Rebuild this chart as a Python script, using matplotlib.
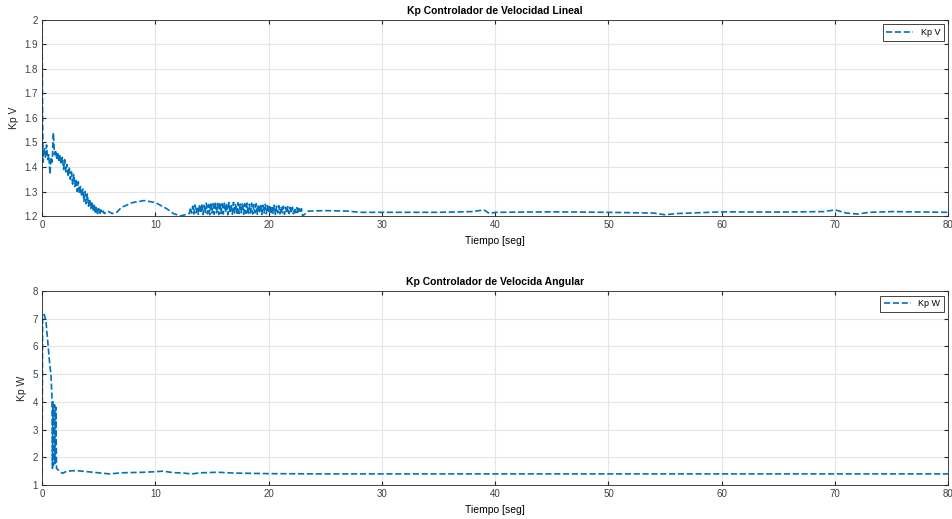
import matplotlib
matplotlib.use("Agg")
import matplotlib.pyplot as plt

plt.rcParams['font.family'] = ['Liberation Sans', 'DejaVu Sans']

# Kp V (top)
t_v = [0.0, 0.02, 0.05, 0.1, 0.2, 0.3, 0.4, 0.5, 0.6, 0.7, 0.8, 0.9, 1.0, 1.1,
       1.2, 1.3, 1.4, 1.5, 1.6, 1.7, 1.8, 1.9, 2.0, 2.1, 2.2, 2.3, 2.4, 2.5,
       2.6, 2.7, 2.8, 2.9, 3.0, 3.1, 3.2, 3.3, 3.4, 3.5, 3.6, 3.7, 3.8, 3.9,
       4.0, 4.1, 4.2, 4.3, 4.4, 4.5, 4.6, 4.7, 4.8, 4.9, 5.0, 5.1, 5.2, 5.3,
       5.4, 5.5,
       5.8, 6.2, 6.6, 7.0, 8.0, 9.0, 10.0, 11.0, 11.6, 12.2, 12.6,
       13.0, 13.1, 13.2, 13.3, 13.4, 13.5, 13.6, 13.7, 13.8, 13.9,
       14.0, 14.1, 14.2, 14.3, 14.4, 14.5, 14.6, 14.7, 14.8, 14.9,
       15.0, 15.1, 15.2, 15.3, 15.4, 15.5, 15.6, 15.7, 15.8, 15.9,
       16.0, 16.1, 16.2, 16.3, 16.4, 16.5, 16.6, 16.7, 16.8, 16.9,
       17.0, 17.1, 17.2, 17.3, 17.4, 17.5, 17.6, 17.7, 17.8, 17.9,
       18.0, 18.1, 18.2, 18.3, 18.4, 18.5, 18.6, 18.7, 18.8, 18.9,
       19.0, 19.1, 19.2, 19.3, 19.4, 19.5, 19.6, 19.7, 19.8, 19.9,
       20.0, 20.1, 20.2, 20.3, 20.4, 20.5, 20.6, 20.7, 20.8, 20.9,
       21.0, 21.1, 21.2, 21.3, 21.4, 21.5, 21.6, 21.7, 21.8, 21.9,
       22.0, 22.1, 22.2, 22.3, 22.4, 22.5, 22.6, 22.7, 22.8, 22.9, 23.0,
       23.5, 25.0, 27.0, 28.0, 30.0, 35.0, 38.0, 39.0, 39.5, 40.0, 45.0,
       50.0, 54.0, 55.0, 56.0, 60.0, 65.0, 69.0, 70.0, 71.0, 72.0, 73.0,
       75.0, 80.0]
kp_v = [1.97, 1.8, 1.6, 1.42, 1.48, 1.44, 1.49, 1.43, 1.45, 1.37, 1.44, 1.42, 1.54, 1.45,
        1.47, 1.43, 1.46, 1.42, 1.45, 1.41, 1.44, 1.39, 1.43, 1.38, 1.41, 1.36, 1.40, 1.35,
        1.38, 1.33, 1.37, 1.32, 1.35, 1.30, 1.34, 1.29, 1.32, 1.28, 1.31, 1.26, 1.30, 1.25,
        1.29, 1.24, 1.27, 1.23, 1.26, 1.22, 1.25, 1.21, 1.24, 1.21, 1.23, 1.205, 1.225, 1.21,
        1.22, 1.21,
        1.22, 1.21, 1.215, 1.235, 1.255, 1.263, 1.255, 1.23, 1.21, 1.2, 1.205,
        1.21, 1.235, 1.212, 1.24, 1.208, 1.245, 1.213, 1.238, 1.207, 1.248,
        1.211, 1.25, 1.206, 1.243, 1.214, 1.252, 1.209, 1.247, 1.205, 1.255,
        1.212, 1.25, 1.207, 1.258, 1.213, 1.252, 1.206, 1.256, 1.21, 1.25,
        1.208, 1.257, 1.214, 1.251, 1.205, 1.255, 1.211, 1.248, 1.207, 1.256,
        1.212, 1.25, 1.206, 1.254, 1.21, 1.249, 1.213, 1.255, 1.207, 1.25,
        1.211, 1.253, 1.205, 1.248, 1.212, 1.252, 1.208, 1.246, 1.213, 1.25,
        1.207, 1.247, 1.211, 1.249, 1.206, 1.244, 1.212, 1.248, 1.209, 1.243,
        1.213, 1.245, 1.207, 1.241, 1.211, 1.244, 1.206, 1.24, 1.212, 1.242,
        1.209, 1.238, 1.213, 1.24, 1.207, 1.236, 1.211, 1.238, 1.21, 1.235,
        1.212, 1.236, 1.209, 1.233, 1.213, 1.234, 1.21, 1.231, 1.212, 1.23, 1.2,
        1.22, 1.222, 1.22, 1.215, 1.215, 1.215, 1.218, 1.225, 1.21, 1.215, 1.217,
        1.215, 1.212, 1.205, 1.21, 1.217, 1.216, 1.218, 1.225, 1.212, 1.208, 1.215,
        1.218, 1.215]

# Kp W (bottom)
t_w = [0.0, 0.05, 0.2, 0.35, 0.5, 0.65, 0.8, 0.88, 0.92, 0.96, 1.0, 1.1, 1.15,
       1.22, 1.28, 1.4, 1.6, 1.8, 2.2, 3.0, 4.0, 5.0, 6.0, 7.0, 8.0, 9.0, 10.0,
       10.7, 11.5, 12.5, 13.2, 14.0, 15.5, 17.0, 18.5, 20.0, 25.0, 40.0, 55.0,
       70.0, 80.0]
kp_w = [1.4, 7.1, 7.15, 6.9, 6.2, 5.5, 4.9, 4.1, 1.6, 4.0, 1.7, 3.9, 1.75,
        3.8, 1.6, 1.55, 1.5, 1.42, 1.5, 1.52, 1.48, 1.44, 1.4, 1.44, 1.45, 1.46, 1.48,
        1.5, 1.45, 1.43, 1.4, 1.44, 1.46, 1.43, 1.42, 1.41, 1.4, 1.4, 1.4,
        1.4, 1.4]

blue = '#0072BD'
fig = plt.figure(figsize=(9.53, 5.19), dpi=100)
ax1 = fig.add_axes([0.0441, 0.5838, 0.951, 0.3777])
ax2 = fig.add_axes([0.0441, 0.0655, 0.951, 0.3738])


def style(ax, title, ylab):
    ax.set_title(title, fontsize=7.5, fontweight='bold', pad=4)
    ax.set_xlabel('Tiempo [seg]', fontsize=7.5, labelpad=4)
    ax.set_ylabel(ylab, fontsize=7.5, labelpad=4, color='#262626')
    ax.grid(True, color='#e6e6e6', linewidth=0.8)
    ax.set_axisbelow(True)
    ax.tick_params(direction='in', length=3, labelsize=7, colors='#262626',
                   labelcolor='#404040', top=True, right=True, pad=3)
    for s in ax.spines.values():
        s.set_color('#262626')
        s.set_linewidth(0.6)
    ax.set_xlim(0, 80)
    ax.set_xticks(range(0, 81, 10))
    leg = ax.legend(loc='upper right', fontsize=6.5, fancybox=False,
                    handlelength=3, borderpad=0.4, framealpha=1)
    leg.get_frame().set_edgecolor('#262626')
    leg.get_frame().set_linewidth(0.6)


ax1.plot(t_v, kp_v, '--', color=blue, linewidth=1.2, label='Kp V')
ax1.set_ylim(1.2, 2.0)
ax1.set_yticks([1.2, 1.3, 1.4, 1.5, 1.6, 1.7, 1.8, 1.9, 2.0])
ax1.set_yticklabels(['1.2', '1.3', '1.4', '1.5', '1.6', '1.7', '1.8', '1.9', '2'])
style(ax1, 'Kp Controlador de Velocidad Lineal', 'Kp V')

ax2.plot(t_w, kp_w, '--', color=blue, linewidth=1.2, label='Kp W')
ax2.set_ylim(1, 8)
ax2.set_yticks(range(1, 9))
style(ax2, 'Kp Controlador de Velocida Angular', 'Kp W')

fig.savefig('out.png', dpi=100)
